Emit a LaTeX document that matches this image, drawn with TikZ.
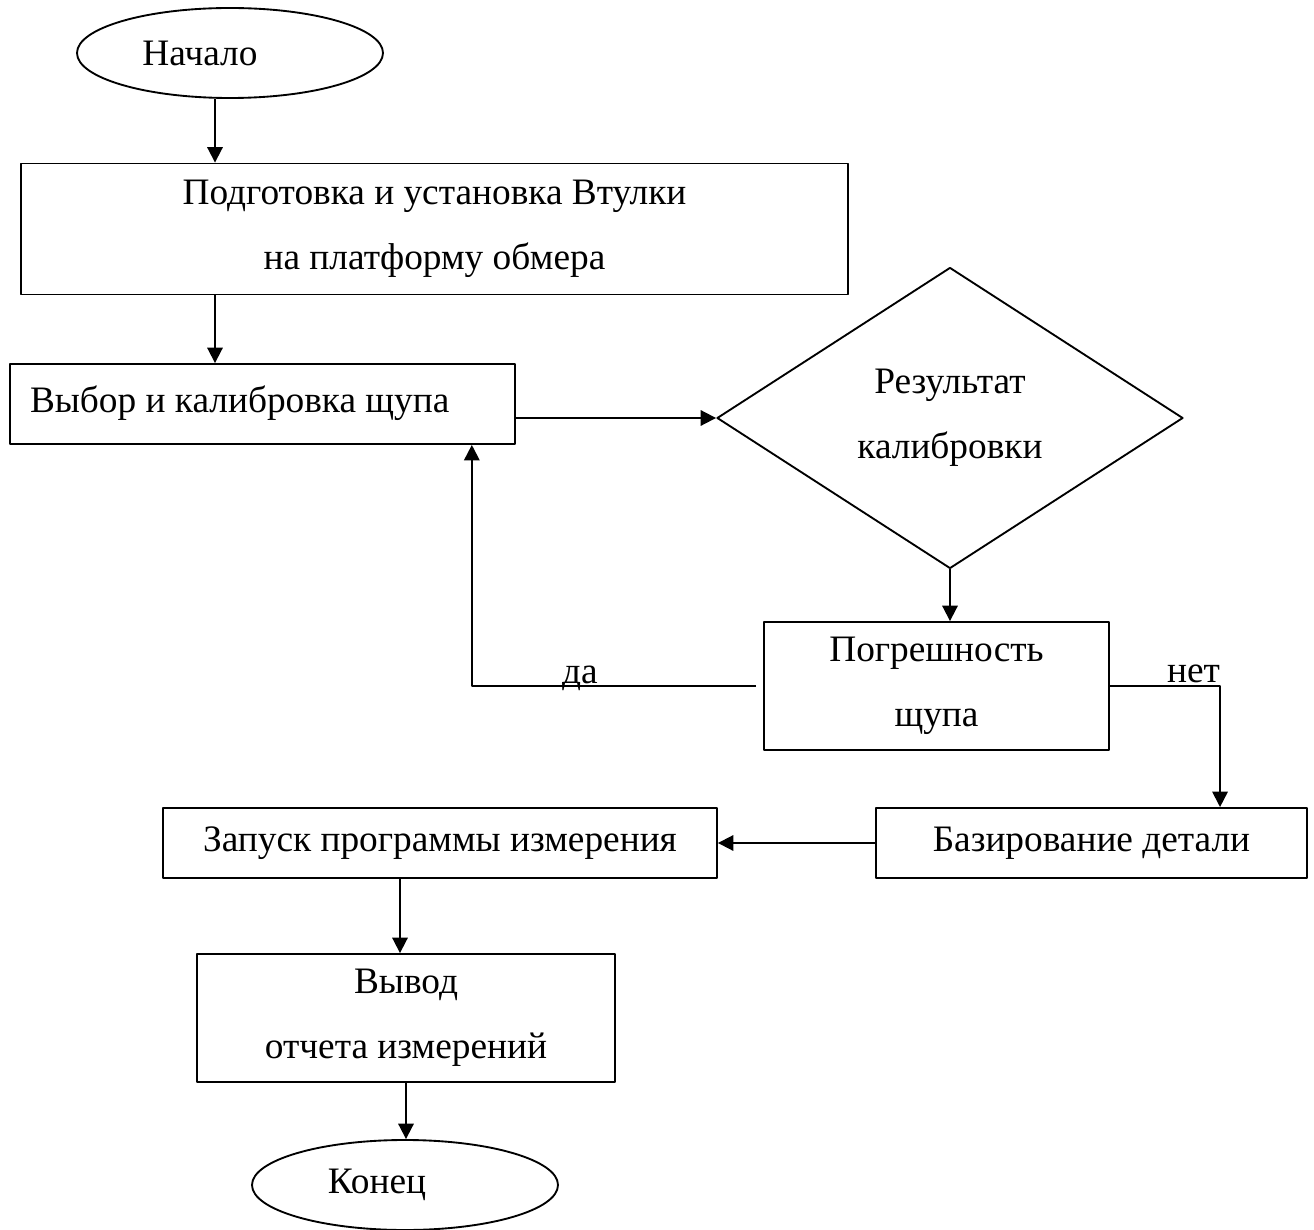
\documentclass[tikz,border=0pt]{standalone}
\usepackage{fontspec}
\setmainfont{Liberation Serif}
\usetikzlibrary{shapes.geometric,arrows.meta}

\begin{document}
\begin{tikzpicture}[x=0.75pt,y=-0.75pt, line join = round, >={Triangle[length=11.5pt,width=11.5pt]}]
	\tikzset{box/.style={draw,line width=1.4pt,inner sep=0pt,align=center,font=\fontsize{28}{48.75}\selectfont},
		oval/.style={box,ellipse,minimum width=229.5pt,minimum height=67.5pt},
		lbl/.style={font=\fontsize{28}{48.75}\selectfont,inner sep=0pt,anchor=base},
		arr/.style={->,line width=1.4pt}}
	\useasboundingbox (0,0) rectangle (1314,1230);
	\node[oval] (start) at (230,53) {Начало\kern45pt};
	\node[box,minimum width=620.25pt,minimum height=98.25pt] (prep) at (434.5,229) {Подготовка и установка Втулки\\на платформу обмера};
	\node[box,minimum width=378.75pt,minimum height=60pt] (probe) at (262.5,404) {\raisebox{8pt}{\makebox[348.75pt][l]{Выбор и калибровка щупа}}};
	\node[box,diamond,minimum width=349.5pt,minimum height=225.75pt] (dec) at (950,418) {Результат\\калибровки};
	\node[box,minimum width=258.75pt,minimum height=96pt] (check) at (936.5,686) {Погрешность\\щупа};
	\node[box,minimum width=323.25pt,minimum height=52.5pt] (base) at (1091.5,843) {Базирование детали};
	\node[box,minimum width=415.5pt,minimum height=52.5pt] (run) at (440,843) {Запуск программы измерения};
	\node[box,minimum width=313.5pt,minimum height=96pt] (report) at (406,1018) {Вывод\\отчета измерений};
	\node[oval] (stop) at (405,1185) {Конец\kern42pt};
	% arrows
	\draw[arr] ([xshift=-11.25pt]start.south) coordinate (a) -- (a |- prep.north);
	\draw[arr] (a |- prep.south) -- (a |- probe.north);
	\draw[arr] (probe.east |- dec.west) -- (dec.west);
	\draw[arr] (dec.south) -- (dec.south |- check.north);
	\draw[arr] ([xshift=-5.25pt]check.west) -| ([xshift=157pt]probe.south) node[lbl,pos=.31,yshift=2pt]{да};
	\draw[arr] (check.east) -| ([xshift=96.4pt]base.north) node[lbl,pos=.38,yshift=3pt]{нет};
	\draw[arr] (base.west) -- (run.east);
	\draw[arr] ([xshift=-30pt]run.south) -- ([xshift=-4.5pt]report.north);
	\draw[arr] (report.south) -- (report.south |- stop.north);
\end{tikzpicture}
\end{document}
